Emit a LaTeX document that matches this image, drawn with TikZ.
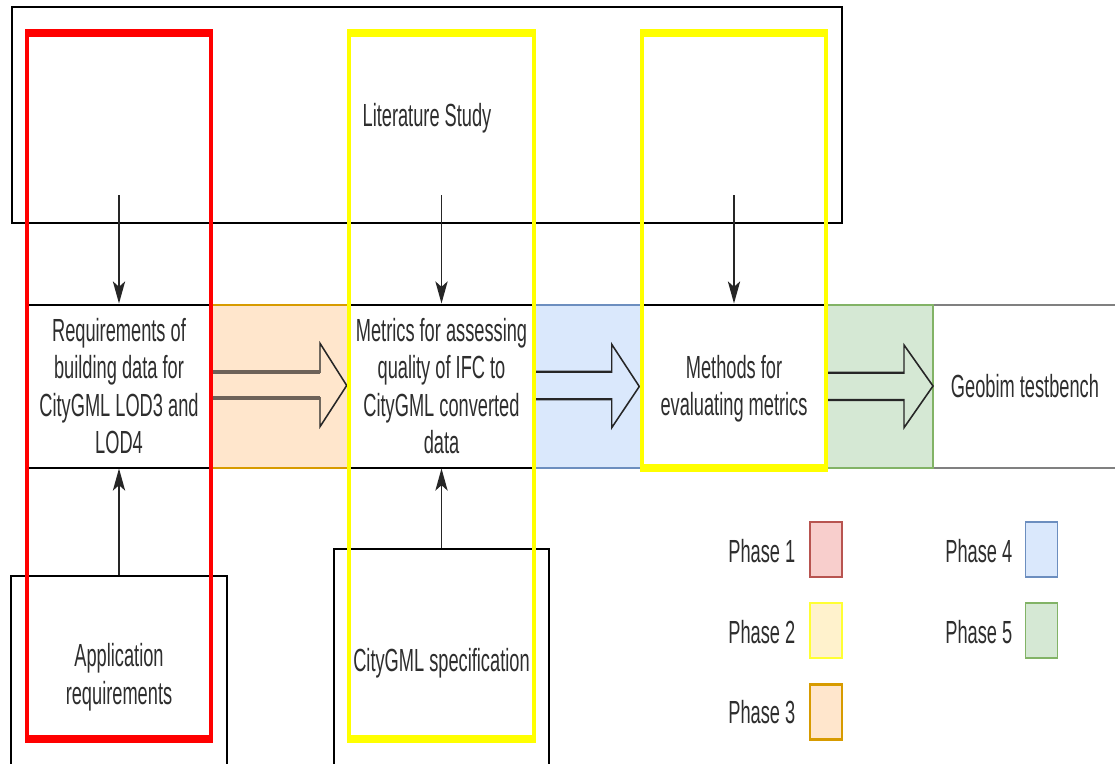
\documentclass[tikz,border=0pt]{standalone}
\usepackage{fontspec}
\setmainfont{Liberation Sans}
\usetikzlibrary{arrows.meta}

\definecolor{phaseonefill}{HTML}{F8CECC}
\definecolor{phaseoneline}{HTML}{B85450}
\definecolor{phasetwofill}{HTML}{FFF2CC}
\definecolor{phasetwoline}{HTML}{FFFF33}
\definecolor{phasethreefill}{HTML}{FFE6CC}
\definecolor{phasethreeline}{HTML}{D79B00}
\definecolor{phasefourfill}{HTML}{DAE8FC}
\definecolor{phasefourline}{HTML}{6C8EBF}
\definecolor{phasefivefill}{HTML}{D5E8D4}
\definecolor{phasefiveline}{HTML}{82B366}
\definecolor{framered}{HTML}{FF0000}
\definecolor{frameyellow}{HTML}{FFFF00}
\definecolor{inktext}{HTML}{2E2E2E}
\definecolor{shaftgrey}{HTML}{6E6258}

% horizontal unit used inside the narrowed drawing (0.75pt / 0.57)
\newcommand{\squeezeunit}{1.315789pt}

\begin{document}
\begin{tikzpicture}[x=0.75pt,y=-0.75pt]
  \useasboundingbox (0,0) rectangle (1115,764);
  \fill[white] (0,0) rectangle (1115,764);
  \clip (0,0) rectangle (1115,764);

  \begin{scope}[transform canvas={xscale=0.57}, x=\squeezeunit,
    every node/.append style={font=\fontsize{24}{28.1}\selectfont, text=inktext},
    blk/.style 2 args={rectangle, minimum width={#1*\squeezeunit},
      minimum height={#2*0.75pt}, inner sep=0pt, align=center, line width=1.5pt},
    legendbox/.style={rectangle, minimum width={32*\squeezeunit},
      minimum height={55*0.75pt}, inner sep=0pt, line width=1.6pt},
    feed/.style={-{Stealth[length=16.5pt,width=16pt,inset=4pt]},
      line width=2.2pt, draw=black!85},
    blockarrow/.style={draw=black!85, line width=1.6pt, line join=miter},
    shaftline/.style={draw=shaftgrey, line width=3pt},
    frame/.style={line width=6pt, line join=miter}]

    % literature study block
    \node[blk={830}{216}, draw=black, line width=1.7pt] (lit) at (427,115) {};
    \node (littext) at ([yshift=-2.5pt]lit.center) {Literature Study};

    % main band
    \node[blk={184}{163}, draw=black, fill=white] (req) at (119,386)
      {Requirements of\\building data for\\CityGML LOD3 and\\LOD4};
    \node[blk={138}{163}, draw=phasethreeline, fill=phasethreefill] (bandthree) at (280,386) {};
    \node[blk={185}{163}, draw=black, fill=white] (metrics) at (441.5,386)
      {Metrics for assessing\\quality of IFC to\\CityGML converted\\data};
    \node[blk={108}{163}, draw=phasefourline, fill=phasefourfill] (bandfour) at (588,386) {};
    \node[blk={184}{163}, draw=black, fill=white] (methods) at (734,386) {};
    \node[align=center] (methodstext) at ([yshift=-2pt]methods.center)
      {Methods for\\evaluating metrics};
    \node[blk={184}{163}, draw=black!50, fill=white] (geobim) at (1025,386) {Geobim testbench};
    \node[blk={107}{163}, draw=phasefiveline, fill=phasefivefill] (bandfive) at (879.5,386) {};

    % block arrows between the stages
    \draw[blockarrow] (211,371.7) -- (320,371.7) -- (320,343.3) -- (346.7,385.5)
      -- (320,426.7) -- (320,398.3) -- (211,398.3);
    \draw[shaftline] (213,371.7) -- (320,371.7) (213,398.3) -- (320,398.3);
    \draw[blockarrow] (534,371.7) -- (611.7,371.7) -- (611.7,344.3) -- (639.3,386.5)
      -- (611.7,427.7) -- (611.7,399.3) -- (534,399.3);
    \draw[blockarrow] (826,372.7) -- (904,372.7) -- (904,345) -- (933,386)
      -- (904,427.7) -- (904,400) -- (826,400);

    % inputs from below
    \node[blk={216}{202}, draw=black, fill=white] (app) at (119,677) {Application\\requirements};
    \node[blk={215}{229}, draw=black, fill=white] (spec) at (441.5,663.5) {CityGML specification};

    % feeding arrows
    \coordinate (litA) at (119,195);
    \coordinate (litB) at (441.5,195);
    \coordinate (litC) at (734,195);
    \draw[feed] (litA) -- (req.north);
    \draw[feed] (litB) -- (metrics.north);
    \draw[feed] (litC) -- (methods.north);
    \draw[feed] (app.north) -- (req.south);
    \draw[feed] (spec.north) -- (metrics.south);

    % phase frames
    \draw[frame, draw=framered] (27,33) rectangle (211,739);
    \draw[frame, draw=frameyellow] (349,33) rectangle (534,739);
    \draw[frame, draw=frameyellow] (642,33) rectangle (826,467.5);

    % legend
    \node[legendbox, draw=phaseoneline, fill=phaseonefill] (keyone) at (826,549.5) {};
    \node[legendbox, draw=phasetwoline, fill=phasetwofill] (keytwo) at (826,630.5) {};
    \node[legendbox, draw=phasethreeline, fill=phasethreefill] (keythree) at (826,712) {};
    \node[legendbox, draw=phasefourline, fill=phasefourfill] (keyfour) at (1041.5,549.5) {};
    \node[legendbox, draw=phasefiveline, fill=phasefivefill] (keyfive) at (1041.5,630.5) {};
    \node[anchor=base east] (labone) at (798,562) {Phase 1};
    \node[anchor=base east] (labtwo) at (798,643) {Phase 2};
    \node[anchor=base east] (labthree) at (798,723) {Phase 3};
    \node[anchor=base east] (labfour) at (1015,562) {Phase 4};
    \node[anchor=base east] (labfive) at (1015,643) {Phase 5};
  \end{scope}
\end{tikzpicture}
\end{document}
